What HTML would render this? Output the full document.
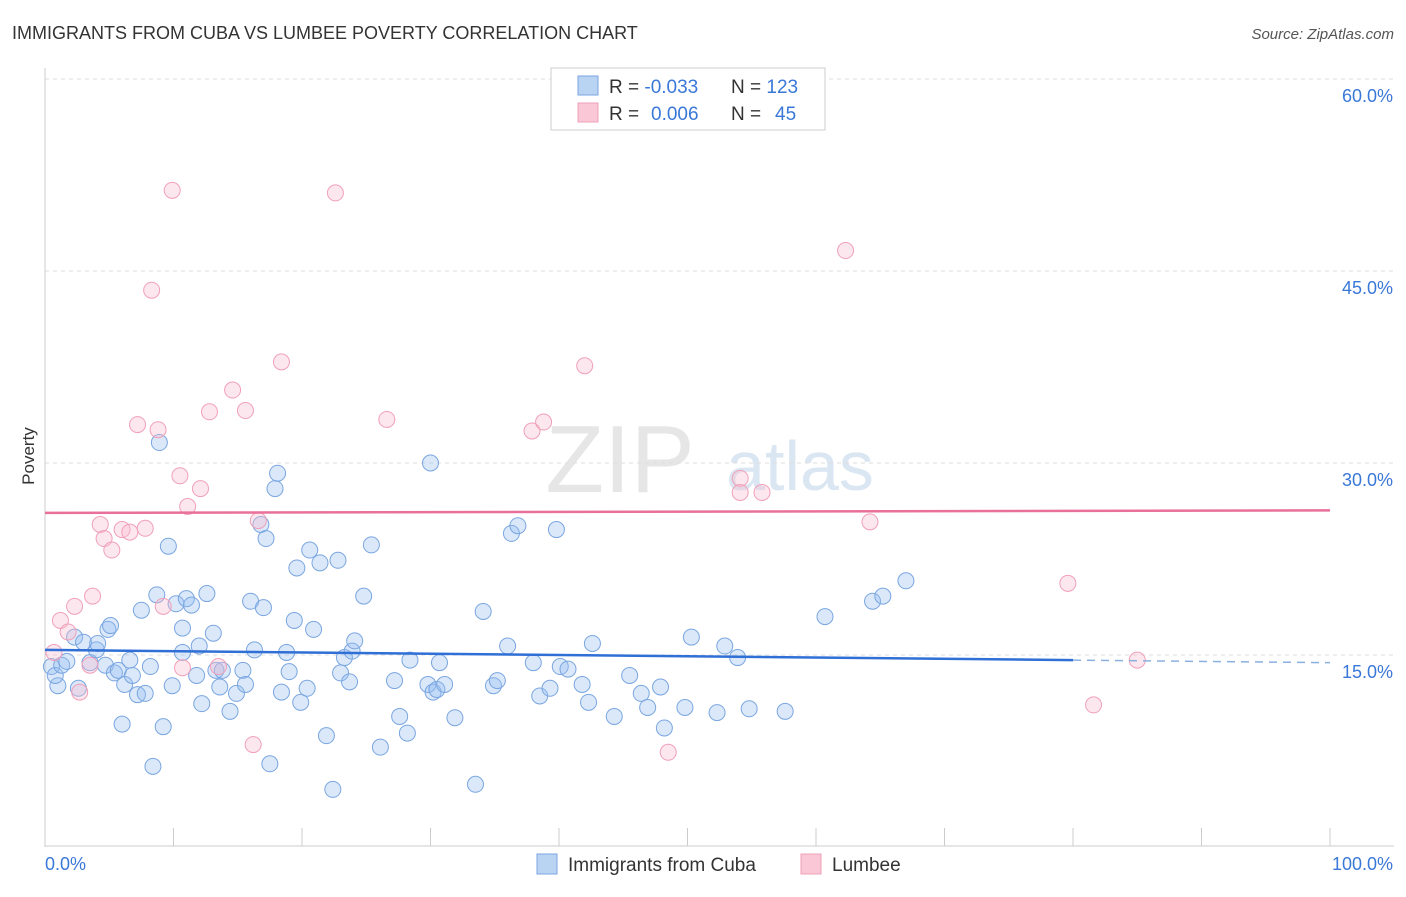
<!DOCTYPE html>
<html><head><meta charset="utf-8"><style>
body{margin:0;background:#fff;font-family:"Liberation Sans",sans-serif;}
svg text{font-family:"Liberation Sans",sans-serif;}
</style></head><body>
<svg id="chart" width="1406" height="892">
<text x="12" y="39" font-size="18" fill="#333">IMMIGRANTS FROM CUBA VS LUMBEE POVERTY CORRELATION CHART</text>
<text x="1394" y="39" font-size="15" fill="#555" font-style="italic" text-anchor="end">Source: ZipAtlas.com</text>
<text x="620" y="492" font-size="96" fill="#e6e6e6" font-family="Liberation Serif" text-anchor="middle">ZIP</text>
<text x="800" y="490" font-size="70" fill="#dbe6f3" text-anchor="middle">atlas</text>
<text x="34" y="456" font-size="17" fill="#333" transform="rotate(-90 34 456)" text-anchor="middle">Poverty</text>
<g id="grid"></g><g id="axes"></g><g id="pts"></g><g id="trends"></g>
<g>
<rect x="551" y="68" width="274" height="62" fill="#fff" stroke="#ccc"/>
<rect x="578" y="76" width="20" height="19" fill="#b9d3f3" stroke="#7aa6e0"/>
<rect x="578" y="103" width="20" height="19" fill="#f9c7d6" stroke="#f0a0b8"/>
<text x="609" y="93" font-size="19" fill="#333">R = <tspan fill="#3a78d8">-0.033</tspan><tspan x="731">N = </tspan><tspan fill="#3a78d8">123</tspan></text>
<text x="609" y="120" font-size="19" fill="#333">R = <tspan fill="#3a78d8" x="651">0.006</tspan><tspan x="731">N = </tspan><tspan fill="#3a78d8" x="775">45</tspan></text>
</g>
<g>
<rect x="537" y="854" width="20" height="20" fill="#b9d3f3" stroke="#7aa6e0"/>
<text x="568" y="871" font-size="19" fill="#333">Immigrants from Cuba</text>
<rect x="801" y="854" width="20" height="20" fill="#f9c7d6" stroke="#f0a0b8"/>
<text x="832" y="871" font-size="19" fill="#333">Lumbee</text>
</g>
</svg>
<script>
const yTicks=[15,30,45,60];
const yTickLabels=["15.0%","30.0%","45.0%","60.0%"];
const xEndLabels=["0.0%","100.0%"];
const cubaX=[0.5,1.0,0.8,1.3,1.7,2.3,2.6,3.0,3.5,4.0,4.1,4.7,4.9,5.1,5.4,5.7,6.0,6.2,6.6,6.8,7.2,7.5,7.8,8.2,8.4,8.7,8.9,9.2,9.6,9.9,10.2,10.7,10.7,11.0,11.4,11.8,12.0,12.2,12.6,13.1,13.3,13.6,13.8,14.4,14.9,15.4,15.6,16.0,16.3,16.8,17.0,17.2,17.5,17.9,18.1,18.4,18.8,19.0,19.4,19.6,19.9,20.4,20.6,20.9,21.4,21.9,22.4,22.8,23.0,23.3,23.7,23.9,24.1,24.8,25.4,26.1,27.2,27.6,28.2,28.4,29.8,30.0,30.2,30.5,30.7,31.1,31.9,33.5,34.1,34.9,35.2,36.0,36.3,36.8,38.0,38.5,39.3,39.8,40.1,40.7,41.8,42.3,42.6,44.3,45.5,46.4,46.9,47.9,48.2,49.8,50.3,52.3,52.9,53.9,54.8,57.6,60.7,64.4,65.2,67.0];
const cubaY=[14.1,12.6,13.4,14.2,14.5,16.4,12.4,16.0,14.4,15.4,15.9,14.2,17.0,17.3,13.6,13.8,9.6,12.7,14.6,13.4,11.9,18.5,12.0,14.1,6.3,19.7,31.6,9.4,23.5,12.6,19.0,17.1,15.2,19.4,18.9,13.4,15.7,11.2,19.8,16.7,13.8,12.5,13.8,10.6,12.0,13.8,12.7,19.2,15.4,25.2,18.7,24.1,6.5,28.0,29.2,12.1,15.2,13.7,17.7,21.8,11.3,12.4,23.2,17.0,22.2,8.7,4.5,22.4,13.6,14.8,12.9,15.3,16.1,19.6,23.6,7.8,13.0,10.2,8.9,14.6,12.7,30.0,12.1,12.3,14.4,12.7,10.1,4.9,18.4,12.6,13.0,15.7,24.5,25.1,14.4,11.8,12.4,24.8,14.1,13.9,12.7,11.3,15.9,10.2,13.4,12.0,10.9,12.5,9.3,10.9,16.4,10.5,15.7,14.8,10.8,10.6,18.0,19.2,19.6,20.8];
const lumbeeX=[0.7,1.2,1.8,2.3,2.7,3.7,4.3,4.6,5.2,6.0,6.6,7.2,7.8,8.3,8.8,9.2,9.9,10.5,10.7,11.1,12.1,12.8,13.5,14.6,15.6,16.2,16.6,18.4,22.6,26.6,37.9,38.8,42.0,48.5,54.1,54.1,55.8,62.3,64.2,79.6,81.6,85.0,3.5];
const lumbeeY=[15.2,17.7,16.8,18.8,12.1,19.6,25.2,24.1,23.2,24.8,24.6,33.0,24.9,43.5,32.6,18.8,51.3,29.0,14.0,26.6,28.0,34.0,14.1,35.7,34.1,8.0,25.5,37.9,51.1,33.4,32.5,33.2,37.6,7.4,28.8,27.7,27.7,46.6,25.4,20.6,11.1,14.6,14.2];
const cubaTrend=[15.4,14.6,14.4];   // at x=0, 80, 100
const lumbeeTrend=[26.1,26.3];      // at x=0, 100

const NS="http://www.w3.org/2000/svg";
const X0=45,X1=1330,Y0=847,PY=12.8;
const sx=v=>X0+(X1-X0)*v/100, sy=v=>Y0-v*PY;
function mk(tag,attrs,parent){const e=document.createElementNS(NS,tag);for(const k in attrs)e.setAttribute(k,attrs[k]);document.getElementById(parent).appendChild(e);return e;}
yTicks.forEach((t,i)=>{
 const l=mk('line',{x1:45,x2:1394,y1:sy(t),y2:sy(t),stroke:'#ddd','stroke-dasharray':'4,4'},'grid');
 
 
 const tx=mk('text',{x:1393,y:sy(t)+23,'font-size':18,fill:'#3a78d8','text-anchor':'end'},'grid');
 tx.textContent=yTickLabels[i];
 
 
});
const ya=mk('line',{x1:45,x2:45,y1:68,y2:847,stroke:'#ccc'},'axes');


const xa=mk('line',{x1:45,x2:1394,y1:846,y2:846,stroke:'#ccc'},'axes');


for(let i=0;i<=10;i++){const t=mk('line',{x1:sx(i*10),x2:sx(i*10),y1:828,y2:846,stroke:'#ccc'},'axes');
 
 }
[[0,'start',45],[1,'end',1393]].forEach(([i,a,x])=>{const t=mk('text',{x:x,y:870,'font-size':18,fill:'#3a78d8','text-anchor':a},'axes');t.textContent=xEndLabels[i];
 
 });
cubaX.forEach((v,i)=>{const c=mk('circle',{cx:sx(v),cy:sy(cubaY[i]),r:8,fill:'rgba(150,190,240,0.35)',stroke:'#7aa6e0','stroke-width':1},'pts');
 
 });
lumbeeX.forEach((v,i)=>{const c=mk('circle',{cx:sx(v),cy:sy(lumbeeY[i]),r:8,fill:'rgba(248,185,205,0.35)',stroke:'#f0a0b8','stroke-width':1},'pts');
 
 });
const t1=mk('line',{x1:sx(0),y1:sy(cubaTrend[0]),x2:sx(80),y2:sy(cubaTrend[1]),stroke:'#2f6fd6','stroke-width':2.5},'trends');


const t2=mk('line',{x1:sx(80),y1:sy(cubaTrend[1]),x2:sx(100),y2:sy(cubaTrend[2]),stroke:'#8ab0e0','stroke-width':1.5,'stroke-dasharray':'8,6'},'trends');


const t3=mk('line',{x1:sx(0),y1:sy(lumbeeTrend[0]),x2:sx(100),y2:sy(lumbeeTrend[1]),stroke:'#e8709a','stroke-width':2.5},'trends');


</script>
</body></html>
